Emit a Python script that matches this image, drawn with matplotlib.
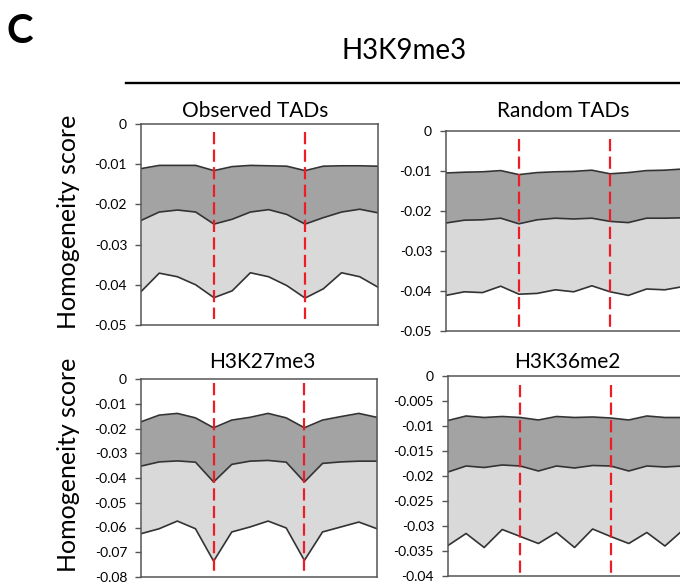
import matplotlib
matplotlib.use("Agg")
import matplotlib.pyplot as plt
from matplotlib.lines import Line2D

plt.rcParams['font.family'] = ['Lato', 'DejaVu Sans']

# ---------------- data ----------------
bins = [0, 1, 2, 3, 4, 5, 6, 7, 8, 9, 10, 11, 12, 13]
boundaries = [4, 9]

obs_top = [-0.0111, -0.0103, -0.0103, -0.0103, -0.0116, -0.0106, -0.0103,
           -0.0104, -0.0105, -0.0116, -0.0105, -0.0104, -0.0104, -0.0105]
obs_mid = [-0.0240, -0.0219, -0.0214, -0.0219, -0.0249, -0.0237, -0.0219,
           -0.0213, -0.0225, -0.0249, -0.0233, -0.0219, -0.0212, -0.0221]
obs_bot = [-0.0417, -0.0371, -0.0380, -0.0400, -0.0432, -0.0415, -0.0370,
           -0.0380, -0.0402, -0.0433, -0.0410, -0.0370, -0.0380, -0.0406]

rnd_top = [-0.0105, -0.0103, -0.0102, -0.0099, -0.0109, -0.0104, -0.0102,
           -0.0101, -0.0098, -0.0107, -0.0104, -0.0099, -0.0098, -0.0095]
rnd_mid = [-0.0230, -0.0223, -0.0222, -0.0218, -0.0232, -0.0222, -0.0218,
           -0.0220, -0.0218, -0.0226, -0.0229, -0.0218, -0.0218, -0.0217]
rnd_bot = [-0.0411, -0.0402, -0.0404, -0.0388, -0.0408, -0.0406, -0.0397,
           -0.0402, -0.0387, -0.0402, -0.0411, -0.0395, -0.0397, -0.0389]

k27_top = [-0.0173, -0.0146, -0.0139, -0.0157, -0.0197, -0.0166, -0.0155,
           -0.0139, -0.0157, -0.0197, -0.0166, -0.0152, -0.0139, -0.0155]
k27_mid = [-0.0352, -0.0335, -0.0331, -0.0336, -0.0416, -0.0345, -0.0332,
           -0.0329, -0.0336, -0.0416, -0.0341, -0.0335, -0.0332, -0.0332]
k27_bot = [-0.0625, -0.0605, -0.0574, -0.0605, -0.0736, -0.0618, -0.0598,
           -0.0574, -0.0602, -0.0733, -0.0618, -0.0598, -0.0578, -0.0605]

k36_top = [-0.0089, -0.0080, -0.0083, -0.0081, -0.0083, -0.0088, -0.0081,
           -0.0083, -0.0082, -0.0084, -0.0088, -0.0080, -0.0083, -0.0083]
k36_mid = [-0.0192, -0.0180, -0.0183, -0.0178, -0.0180, -0.0190, -0.0180,
           -0.0184, -0.0179, -0.0180, -0.0190, -0.0180, -0.0182, -0.0180]
k36_bot = [-0.0339, -0.0315, -0.0343, -0.0307, -0.0321, -0.0335, -0.0313,
           -0.0343, -0.0306, -0.0321, -0.0335, -0.0313, -0.0340, -0.0308]

ticks_05 = [0, -0.01, -0.02, -0.03, -0.04, -0.05]
labels_05 = ["0", "-0.01", "-0.02", "-0.03", "-0.04", "-0.05"]
ticks_08 = [0, -0.01, -0.02, -0.03, -0.04, -0.05, -0.06, -0.07, -0.08]
labels_08 = ["0", "-0.01", "-0.02", "-0.03", "-0.04", "-0.05", "-0.06",
             "-0.07", "-0.08"]
ticks_04 = [0, -0.005, -0.01, -0.015, -0.02, -0.025, -0.03, -0.035, -0.04]
labels_04 = ["0", "-0.005", "-0.01", "-0.015", "-0.02", "-0.025", "-0.03",
             "-0.035", "-0.04"]

W, H = 680, 584
DARK, LIGHT, EDGE = "#a3a3a3", "#d9d9d9", "#333333"

fig = plt.figure(figsize=(W / 100, H / 100), dpi=100)


def px_axes(l, t, r, b):
    return fig.add_axes([l / W, 1 - b / H, (r - l) / W, (b - t) / H])


def fig_text(x, y, s, **kw):
    fig.text(x / W, 1 - y / H, s, **kw)


def panel(ax, top, mid, bot, ticks, labels, red_span):
    ax.fill_between(bins, top, mid, color=DARK, lw=0)
    ax.fill_between(bins, mid, bot, color=LIGHT, lw=0)
    for s in (top, mid, bot):
        ax.plot(bins, s, color=EDGE, lw=1.2)
    for xb in boundaries:
        ax.plot([xb, xb], red_span, color="#ee1c25", lw=1.6,
                dashes=(5.5, 2.4))
    ax.set_xlim(bins[0], bins[-1])
    ax.set_ylim(ticks[-1], ticks[0])
    ax.set_yticks(ticks)
    ax.set_yticklabels(labels)
    ax.set_xticks([])
    ax.tick_params(axis="y", direction="out", length=4, width=1,
                   color="#555555", pad=6, labelsize=10)
    for sp in ax.spines.values():
        sp.set_color("#555555")
        sp.set_linewidth(1.1)


ax1 = px_axes(141, 124, 378, 325)
panel(ax1, obs_top, obs_mid, obs_bot, ticks_05, labels_05, [-0.002, -0.0485])
ax2 = px_axes(446, 131, 683, 331)
panel(ax2, rnd_top, rnd_mid, rnd_bot, ticks_05, labels_05, [-0.002, -0.049])
ax3 = px_axes(141, 379, 377, 577)
panel(ax3, k27_top, k27_mid, k27_bot, ticks_08, labels_08, [-0.0018, -0.078])
ax4 = px_axes(448, 376, 683, 576)
panel(ax4, k36_top, k36_mid, k36_bot, ticks_04, labels_04, [-0.0018, -0.04])

# panel titles
fig_text(255.5, 117, "Observed TADs", ha="center", va="baseline", fontsize=15)
fig_text(563.5, 117, "Random TADs", ha="center", va="baseline", fontsize=15)
fig_text(262, 368, "H3K27me3", ha="center", va="baseline", fontsize=15)
fig_text(567.5, 368, "H3K36me2", ha="center", va="baseline", fontsize=15)

# y labels
fig_text(68, 222, "Homogeneity score", rotation=90, ha="center",
         va="center", fontsize=18)
fig_text(68, 465, "Homogeneity score", rotation=90, ha="center",
         va="center", fontsize=18)

# header
fig_text(7, 43, "C", fontsize=29, fontweight="bold", ha="left",
         va="baseline")
fig_text(404, 59, "H3K9me3", fontsize=20, ha="center", va="baseline")
fig.add_artist(Line2D([126 / W, 1.0], [1 - 83 / H, 1 - 83 / H],
                      color="black", lw=1.7, transform=fig.transFigure))

fig.savefig("out.png", dpi=100)
